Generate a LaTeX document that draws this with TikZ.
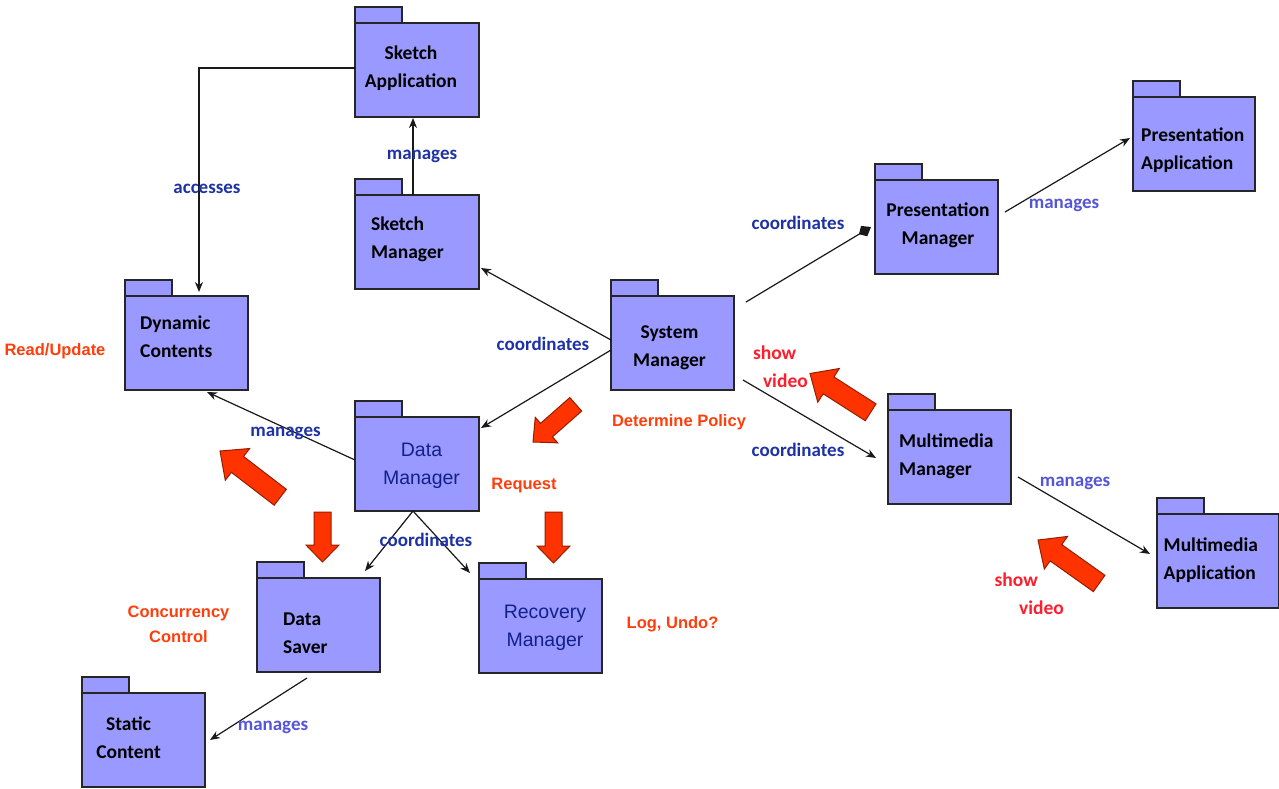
\documentclass[tikz,border=0pt]{standalone}
\usepackage{fontspec}
\setmainfont{Carlito}
\newfontfamily\arialfont{Liberation Sans}
\usetikzlibrary{arrows.meta,calc}

\definecolor{pkgfill}{RGB}{153,153,255}
\definecolor{lblblue}{RGB}{30,50,165}
\definecolor{mgblue}{RGB}{85,85,215}
\definecolor{notered}{RGB}{255,62,12}
\definecolor{showred}{RGB}{255,30,45}
\definecolor{blockfill}{RGB}{255,51,0}
\definecolor{blockline}{RGB}{150,30,0}
\definecolor{datablue}{RGB}{18,32,140}

\tikzset{
  pkgbody/.style={draw=black!85, fill=pkgfill, line width=1.5pt,
    minimum height=94pt, anchor=north west, inner sep=0pt, outer sep=0pt},
  pkgtab/.style={draw=black!85, fill=pkgfill, line width=1.5pt},
  pkgtxt/.style={font=\bfseries\fontsize{19.5}{28}\selectfont, text=black, inner sep=0pt},
  datatxt/.style={font=\arialfont\fontsize{19.5}{28}\selectfont, text=datablue, inner sep=0pt, align=center},
  lbl/.style={font=\bfseries\fontsize{19}{24}\selectfont, text=lblblue, inner sep=0pt, anchor=base},
  lbllight/.style={lbl, text=mgblue},
  note/.style={font=\arialfont\bfseries\fontsize{16.5}{25}\selectfont, text=notered, inner sep=0pt},
  showtxt/.style={font=\bfseries\fontsize{19.5}{28}\selectfont, text=showred, inner sep=0pt, align=left, anchor=west},
  conn/.style={draw=black!90, line width=1.2pt, -{Stealth[length=10pt,width=8pt]}},
  blockarrow/.style={fill=blockfill, draw=blockline, line width=1pt, line join=miter},
}

% two text lines with equal strut heights
\newcommand\twoline[2]{\strut#1\\\strut#2}
% UML package: name, left, top, width
\newcommand\pkg[4]{%
  \node[pkgbody, minimum width=#4] (#1) at (#2,#3) {};
  \draw[pkgtab] (#1.north west) rectangle ++(47,-16);}
% thick block arrow: tip, direction, length, head length, head half width, shaft half width
\newcommand\redarrow[6]{%
  \begin{scope}[shift={(#1)},rotate=#2]
    \draw[blockarrow] (0,0) -- (-#4,#5) -- (-#4,#6) -- (-#3,#6) -- (-#3,-#6)
      -- (-#4,-#6) -- (-#4,-#5) -- cycle;
  \end{scope}}

\begin{document}
\begin{tikzpicture}[x=1pt,y=-1pt]
\fill[white] (0,0) rectangle (1279,789);
\useasboundingbox (0,0) rectangle (1279,789);

% packages
\pkg{sA}{355}{23}{124}
\pkg{sM}{355}{195}{124}
\pkg{dC}{125}{296}{123}
\pkg{sys}{611}{296}{123}
\pkg{pM}{875}{180}{123}
\pkg{pA}{1133}{97}{122}
\pkg{mM}{888}{410}{123}
\pkg{mA}{1157}{514}{122}
\pkg{dM}{355}{417}{124}
\pkg{dS}{257}{578}{123}
\pkg{rM}{479}{579}{123}
\pkg{sC}{82}{693}{123}

% package names
\node[pkgtxt, align=center] (sAt) at (411,68) {\twoline{Sketch}{Application}};
\node[pkgtxt, align=left, anchor=west] (sMt) at (371,239) {\twoline{Sketch}{Manager}};
\node[pkgtxt, align=left, anchor=west] (dCt) at (140,338) {\twoline{Dynamic}{Contents}};
\node[pkgtxt, align=center] (syst) at (669.5,347) {\twoline{System}{Manager}};
\node[pkgtxt, align=center] (pMt) at (938,225) {\twoline{Presentation}{Manager}};
\node[pkgtxt, align=left, anchor=west] (pAt) at (1141,149.5) {\twoline{Presentation}{Application}};
\node[pkgtxt, align=left, anchor=west] (mMt) at (899,456) {\twoline{Multimedia}{Manager}};
\node[pkgtxt, align=left, anchor=west] (mAt) at (1163.5,560) {\twoline{Multimedia}{Application}};
\node[datatxt] (dMt) at (421.5,464.5) {\twoline{Data}{Manager}};
\node[pkgtxt, align=left, anchor=west] (dSt) at (283,634) {\twoline{Data}{Saver}};
\node[datatxt] (rMt) at (545,627) {\twoline{Recovery}{Manager}};
\node[pkgtxt, align=center] (sCt) at (128.5,739) {\twoline{Static}{Content}};

% connectors
\draw[conn] ($(sM.north west)+(58,0)$) -- ($(sA.south west)+(58,1)$);
\draw[conn] ($(sA.north west)+(0,45)$) -| ($(dC.north west)+(74,-4)$);
\draw[conn] ($(sys.north west)+(0,44)$) -- ($(sM.north east)+(2,73)$);
\draw[conn] ($(sys.north west)+(0,54)$) -- ($(dM.north east)+(2,11)$);
\draw[draw=black!90, line width=1.2pt, -{Kite[length=14pt,width=12pt,inset=6pt]}]
  ($(sys.north east)+(12,6)$) -- ($(pM.north west)+(-4,47)$);
\draw[conn] ($(pM.north east)+(7,32)$) -- ($(pA.north west)+(-3,41)$);
\draw[conn] ($(sys.north east)+(9,84)$) -- ($(mM.north west)+(-12,48)$);
\draw[conn] ($(mM.north east)+(7,67)$) -- ($(mA.north west)+(-7,40)$);
\draw[conn] ($(dM.north west)+(0,43)$) -- ($(dC.south west)+(82,2)$);
\draw[conn] ($(dM.south west)+(58,0)$) -- ($(dS.north east)+(-15,-7)$);
\draw[conn] ($(dM.south west)+(58,0)$) -- ($(rM.north west)+(-9,-6)$);
\draw[conn] ($(dS.south west)+(50,6)$) -- ($(sC.north east)+(5,47)$);

% connector labels
\node[lbl] (l1) at (207,193) {accesses};
\node[lbl] (l2) at (422,160) {manages};
\node[lbl] (l3) at (543,350) {coordinates};
\node[lbl] (l4) at (798,229.5) {coordinates};
\node[lbllight] (l5) at (1064,208.5) {manages};
\node[lbl] (l6) at (798,456) {coordinates};
\node[lbllight] (l7) at (1075,486.5) {manages};
\node[lbl] (l8) at (285.5,436.5) {manages};
\node[lbl] (l9) at (426,546.5) {coordinates};
\node[lbllight] (l10) at (273,730.5) {manages};

% notes
\node[note, anchor=base] (n1) at (55,355) {Read/Update};
\node[note, anchor=base] (n2) at (679,426.5) {Determine Policy};
\node[note, anchor=base] (n3) at (524,489.5) {Request};
\node[note, align=center] (n4) at (178.5,625) {\twoline{Concurrency}{Control}};
\node[note, anchor=base] (n5) at (672.5,628) {Log, Undo?};
\node[showtxt] (n6) at (752.8,367.7) {\strut show\\\hspace*{10pt}\strut video};
\node[showtxt] (n7) at (994.4,594.4) {\strut show\\\hspace*{24.5pt}\strut video};

% block arrows
\redarrow{220,451}{142.5}{76}{22}{20}{10}
\redarrow{322.5,562}{-90}{50}{17}{16.5}{8.5}
\redarrow{533,442}{221.4}{57}{18}{17}{9}
\redarrow{553.5,563}{-90}{51}{17}{16.5}{8.5}
\redarrow{810,373.5}{147.4}{72}{22}{20}{10}
\redarrow{1038,540}{144.6}{75}{22}{20}{10}
\end{tikzpicture}
\end{document}
